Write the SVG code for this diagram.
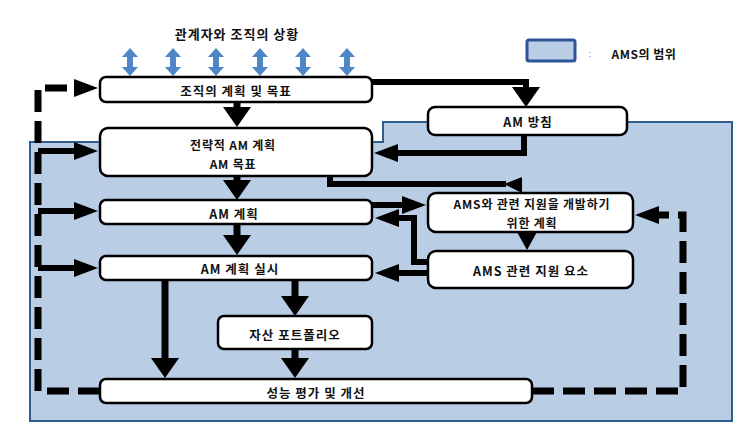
<svg xmlns="http://www.w3.org/2000/svg" width="751" height="433" viewBox="0 0 751 433">
<style>
.bx{fill:#fff;stroke:#000;stroke-width:2.5}
.t{font-family:"Noto Sans CJK KR","Noto Sans",sans-serif;font-weight:bold;font-size:12.5px;letter-spacing:1px;fill:#111;text-anchor:middle;dominant-baseline:central}
.t2{font-size:12px;letter-spacing:0.8px}
.c{fill:none;stroke:#000;stroke-width:7;stroke-linejoin:miter}
.s{fill:none;stroke:#000;stroke-width:6}
.d{fill:none;stroke:#000;stroke-width:7;stroke-dasharray:22 9}
.ba{fill:#4f86c6}
</style>
<defs>
<marker id="dn" markerUnits="userSpaceOnUse" markerWidth="20" markerHeight="28" viewBox="0 0 20 28" refX="0" refY="14" orient="auto">
<path d="M0,0 L20,14 L0,28 Z" fill="#000"/>
</marker>
<marker id="sd" markerUnits="userSpaceOnUse" markerWidth="24" markerHeight="18" viewBox="0 0 24 18" refX="0" refY="9" orient="auto">
<path d="M0,0 L24,9 L0,18 Z" fill="#000"/>
</marker>
</defs>

<!-- AMS scope region -->
<polygon points="30,142 383,142 383,122 732,122 732,421 30,421" fill="#b9cde5" stroke="#2e5d8e" stroke-width="2"/>

<!-- legend -->
<g id="legend">
<rect x="527" y="40" width="48" height="21" rx="2" fill="#b9cde5" stroke="#2f5597" stroke-width="3"/>
<text x="590" y="54" font-family="Liberation Sans,sans-serif" font-size="9" fill="#777" text-anchor="middle" dominant-baseline="central">:</text>
<text class="t" x="644" y="53" font-size="12" style="font-size:12px;letter-spacing:0.5px">AMS의 범위</text>
</g>

<!-- context -->
<g id="context">
<text class="t" x="237" y="33" style="font-size:13px">관계자와 조직의 상황</text>
<g class="ba">
<polygon points="130,48 138,57 133,57 133,67 138,67 130,76 122,67 127,67 127,57 122,57"/>
<polygon points="173,48 181,57 176,57 176,67 181,67 173,76 165,67 170,67 170,57 165,57"/>
<polygon points="216,48 224,57 219,57 219,67 224,67 216,76 208,67 213,67 213,57 208,57"/>
<polygon points="260,48 268,57 263,57 263,67 268,67 260,76 252,67 257,67 257,57 252,57"/>
<polygon points="303,48 311,57 306,57 306,67 311,67 303,76 295,67 300,67 300,57 295,57"/>
<polygon points="347,48 355,57 350,57 350,67 355,67 347,76 339,67 344,67 344,57 339,57"/>
</g>
</g>

<!-- connectors -->
<g id="connectors">
<line class="c" x1="237" y1="102" x2="237" y2="107" marker-end="url(#dn)"/>
<line class="c" x1="237" y1="176" x2="237" y2="180" marker-end="url(#dn)"/>
<line class="c" x1="237" y1="224" x2="237" y2="235" marker-end="url(#dn)"/>
<line class="c" x1="295" y1="280" x2="295" y2="296" marker-end="url(#dn)"/>
<line class="c" x1="295" y1="349" x2="295" y2="358" marker-end="url(#dn)"/>
<line class="c" x1="165" y1="280" x2="165" y2="358" marker-end="url(#dn)"/>
<path class="s" d="M372,82 H526 V87" marker-end="url(#dn)"/>
<path class="s" d="M524,135 V153 H398" marker-end="url(#sd)"/>
<path class="s" d="M330,176 V184 H506"/>
<polygon points="504,184 522,177 522,193" fill="#000"/>
<line class="s" x1="372" y1="205" x2="402" y2="205" marker-end="url(#sd)"/>
<path class="s" d="M428,262 H414 V218 H399" marker-end="url(#sd)"/>
<line class="s" x1="428" y1="273" x2="399" y2="273" marker-end="url(#sd)"/>
<polygon points="517,232 537,232 527,250" fill="#000"/>
<path class="d" d="M100,391 H38 V88 H74" marker-end="url(#sd)"/>
<line class="s" x1="38" y1="151" x2="74" y2="151" marker-end="url(#sd)"/>
<line class="s" x1="38" y1="211" x2="74" y2="211" marker-end="url(#sd)"/>
<line class="s" x1="38" y1="268" x2="74" y2="268" marker-end="url(#sd)"/>
<path class="d" d="M532,391 H683 V215 H659" marker-end="url(#sd)"/>
</g>

<!-- nodes -->
<g id="n-org"><rect class="bx" x="100" y="77" width="272" height="25" rx="6"/><text class="t" x="236" y="90">조직의 계획 및 목표</text></g>
<g id="n-strategic"><rect class="bx" x="100" y="128" width="272" height="48" rx="8"/><text class="t t2" x="233" y="144">전략적 AM 계획</text><text class="t t2" x="233" y="163">AM 목표</text></g>
<g id="n-amplan"><rect class="bx" x="100" y="200" width="272" height="24" rx="6"/><text class="t" x="234" y="213">AM 계획</text></g>
<g id="n-exec"><rect class="bx" x="100" y="256" width="272" height="24" rx="6"/><text class="t" x="240" y="268">AM 계획 실시</text></g>
<g id="n-portfolio"><rect class="bx" x="218" y="316" width="154" height="33" rx="6"/><text class="t" x="295" y="334">자산 포트폴리오</text></g>
<g id="n-perf"><rect class="bx" x="100" y="379" width="432" height="24" rx="6"/><text class="t" x="316" y="392">성능 평가 및 개선</text></g>
<g id="n-policy"><rect class="bx" x="428" y="107" width="199" height="28" rx="7"/><text class="t" x="528" y="121">AM 방침</text></g>
<g id="n-dev"><rect class="bx" x="428" y="193" width="205" height="39" rx="8"/><text class="t t2" x="532" y="203">AMS와 관련 지원을 개발하기</text><text class="t t2" x="532" y="222">위한 계획</text></g>
<g id="n-support"><rect class="bx" x="428" y="251" width="205" height="37" rx="8"/><text class="t" x="531" y="270">AMS 관련 지원 요소</text></g>
</svg>
